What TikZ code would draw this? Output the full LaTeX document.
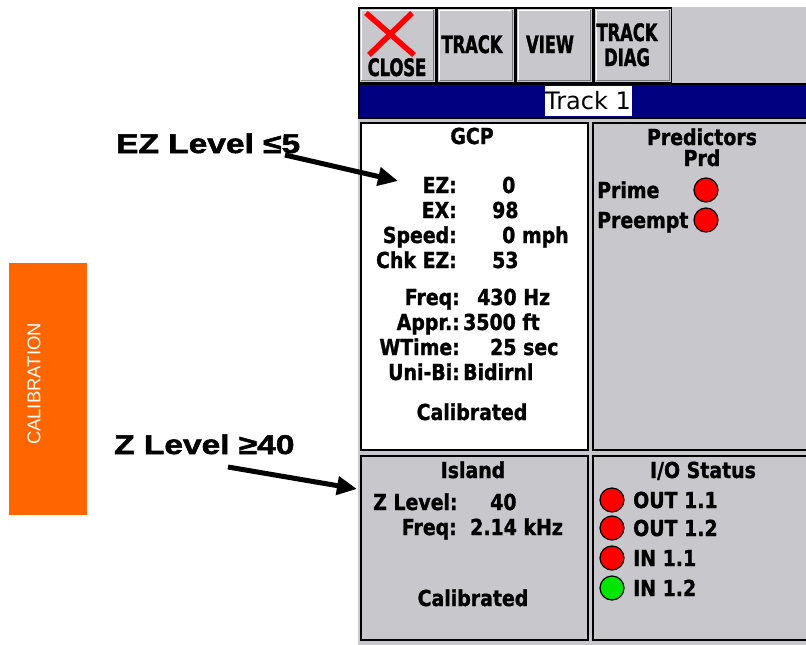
\documentclass[tikz,border=0pt]{standalone}
\usepackage{fontspec}
\setmainfont{Liberation Sans}
\newfontfamily\scrfont{DejaVu Sans Bold}[FakeStretch=0.86, FakeBold=1.2]
\newfontfamily\titlefont{DejaVu Sans}
\newfontfamily\btnfont{DejaVu Sans Bold}[FakeStretch=0.68, FakeBold=1.5]
\newfontfamily\notefont{Liberation Sans Bold}[FakeStretch=1.24, FakeBold=2]
\usetikzlibrary{positioning,arrows.meta}
\definecolor{scrgray}{RGB}{200,199,203}
\definecolor{bevelgray}{RGB}{120,120,124}
\definecolor{navybar}{RGB}{0,0,128}
\definecolor{calorange}{RGB}{255,102,0}
\definecolor{lampred}{RGB}{255,0,0}
\definecolor{lampgreen}{RGB}{0,230,0}
\tikzset{
  btn/.style={draw=black, line width=1.5pt, fill=scrgray, minimum width=77pt, minimum height=75pt, inner sep=0pt},
  panel/.style={draw=black, line width=1.5pt, inner sep=0pt, anchor=north west},
  scrtext/.style={font=\scrfont\fontsize{22}{25}\selectfont, inner sep=0pt},
  btntext/.style={font=\btnfont\fontsize{24}{25}\selectfont, inner sep=0pt, anchor=base},
  notetext/.style={font=\notefont\fontsize{27}{30}\selectfont, inner sep=0pt, anchor=base west},
  bigarrow/.style={line width=5pt, -{Triangle[length=20pt,width=18pt]}},
  lamp/.style={circle, draw=black, line width=1.2pt, minimum size=24pt, inner sep=0pt},
}
\begin{document}
\begin{tikzpicture}[x=1pt, y=-1pt]
\useasboundingbox (0,0) rectangle (806,645);
\fill[white] (0,0) rectangle (806,645);
% screen
\fill[scrgray] (358,7) rectangle (806,645);
%
\node[btn, anchor=north west] (closebtn) at (358,7) {};
\node[btn, right=0pt of closebtn] (trackbtn) {};
\node[btn, right=0pt of trackbtn] (viewbtn) {};
\node[btn, right=0pt of viewbtn] (diagbtn) {};
\foreach \b in {closebtn,trackbtn,viewbtn,diagbtn}{
  \draw[white, line width=1pt] ([xshift=3pt,yshift=4pt]\b.south west) |- ([xshift=-4pt,yshift=-3pt]\b.north east);
  \draw[bevelgray, line width=1pt] ([xshift=3pt,yshift=3pt]\b.south west) -| ([xshift=-3pt,yshift=-3pt]\b.north east);
}
\draw[lampred, line width=5.5pt] (366,13) -- (414,55);
\draw[lampred, line width=5.5pt] (412,13) -- (369,55);
\node[btntext] (closetext) at (397,76) {CLOSE};
\node[btntext] (tracktext) at (472,53) {TRACK};
\node[btntext] (viewtext) at (550,53) {VIEW};
\node[btntext] (diagtext1) at (627,41) {TRACK};
\node[btntext] (diagtext2) at (627,66) {DIAG};
%
\node[panel, fill=navybar, minimum width=448pt, minimum height=34pt] (titlebar) at (358,83) {};
\node[fill=white, minimum width=87pt, minimum height=30pt, inner sep=0pt,
  font=\titlefont\fontsize{24}{25}\selectfont] (tracktitle) at (588,101) {Track 1};
%
\node[panel, fill=white, minimum width=227pt, minimum height=327pt] (gcppanel) at (360,122) {};
\node[panel, fill=scrgray, minimum width=220pt, minimum height=327pt] (predpanel) at (592,122) {};
\node[panel, fill=scrgray, minimum width=227pt, minimum height=184pt] (islandpanel) at (360,455) {};
\node[panel, fill=scrgray, minimum width=220pt, minimum height=184pt] (iopanel) at (592,455) {};
% GCP
\node[scrtext, anchor=base] (gcptitle) at (472,144) {GCP};
\foreach \lab/\val/\vx/\y [count=\i] in {EZ:/0/502/193, EX:/98/492/218, Speed:/0 mph/502/243, Chk EZ:/53/492/268}{
  \node[scrtext, anchor=base east] (gcplab\i) at (457,\y) {\lab};
  \node[scrtext, anchor=base west] (gcpval\i) at (\vx,\y) {\val};
}
\foreach \lab/\val/\vx/\y [count=\i] in {Freq:/430 Hz/477/305, Appr.:/3500 ft/463/330, WTime:/25 sec/490/355, Uni-Bi:/Bidirnl/463/380}{
  \node[scrtext, anchor=base east] (setlab\i) at (460,\y) {\lab};
  \node[scrtext, anchor=base west] (setval\i) at (\vx,\y) {\val};
}
\node[scrtext, anchor=base] (gcpstate) at (472,420) {Calibrated};
% Predictors
\node[scrtext, anchor=base] (predtitle) at (702,145) {Predictors};
\node[scrtext, anchor=base] (predsub) at (702,166) {Prd};
\node[scrtext, anchor=base west] (primetext) at (597,198) {Prime};
\node[scrtext, anchor=base west] (preempttext) at (597,228) {Preempt};
\node[lamp, fill=lampred] (primelamp) at (706,190) {};
\node[lamp, fill=lampred] (preemptlamp) at (706,220) {};
% Island
\node[scrtext, anchor=base] (islandtitle) at (473,478) {Island};
\node[scrtext, anchor=base west] (zlevlab) at (373,510) {Z Level:};
\node[scrtext, anchor=base west] (zlevval) at (490,510) {40};
\node[scrtext, anchor=base east] (islfreqlab) at (457,535) {Freq:};
\node[scrtext, anchor=base west] (islfreqval) at (470,535) {2.14 kHz};
\node[scrtext, anchor=base] (islandstate) at (473,606) {Calibrated};
% I/O
\node[scrtext, anchor=base] (iotitle) at (703,478) {I/O Status};
\foreach \y/\c/\t [count=\i] in {500/lampred/OUT 1.1, 528/lampred/OUT 1.2, 558/lampred/IN 1.1, 588/lampgreen/IN 1.2}{
  \node[lamp, fill=\c] (iolamp\i) at (612,\y) {};
  \node[scrtext, anchor=base west] (iotext\i) at (633,\y+8) {\t};
}
% notes
\node[fill=calorange, minimum width=78pt, minimum height=252pt, inner sep=0pt, anchor=north west] (calbox) at (9,263) {};
\node[rotate=90, text=white, inner sep=0pt, font=\fontsize{18.5}{20}\selectfont] (caltext) at (34,384) {CALIBRATION};
\node[notetext] (ezlevel) at (116,153) {EZ Level ≤5};
\node[notetext] (zlevel) at (114,454) {Z Level ≥40};
\coordinate (eztail) at (285,155);
\coordinate (eztip) at (398,181);
\coordinate (ztail) at (228,467);
\coordinate (ztip) at (357,489);
\draw[bigarrow] (eztail) -- (eztip);
\draw[bigarrow] (ztail) -- (ztip);
\end{tikzpicture}
\end{document}
